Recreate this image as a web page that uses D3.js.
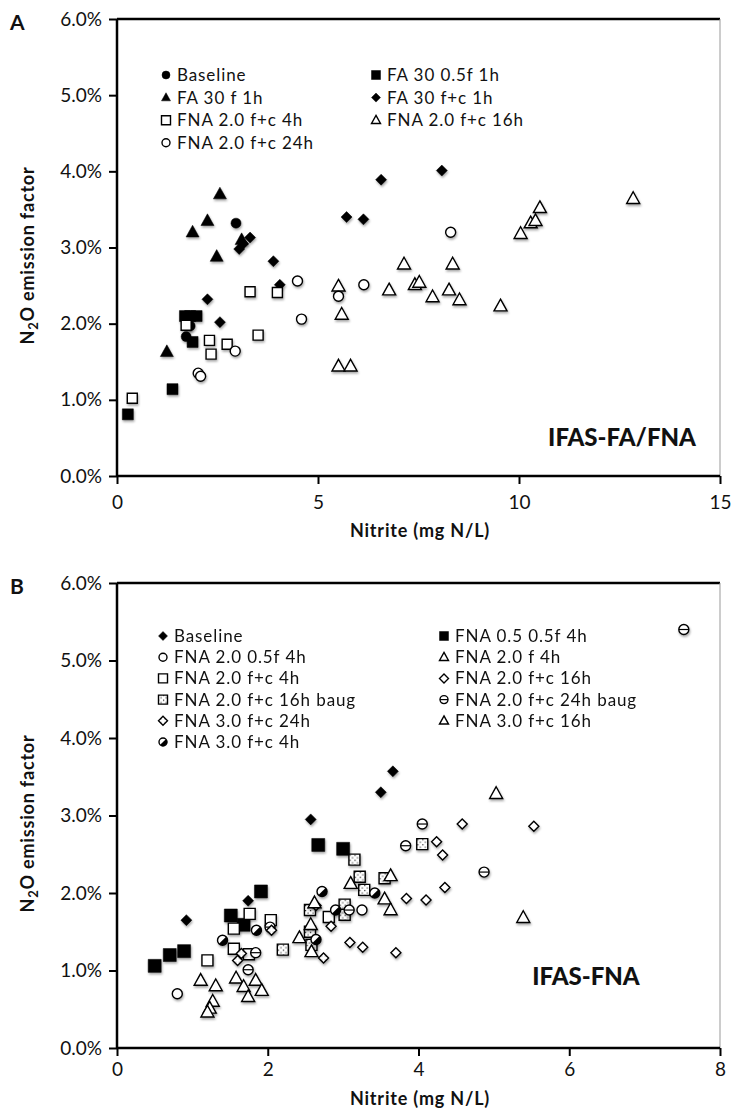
<!DOCTYPE html>
<meta charset="utf-8">
<script src="https://d3js.org/d3.v7.min.js"></script>
<style>
  body { margin: 0; background: #fff; }
  text { font-family: Lato, "Open Sans", sans-serif; fill: #111; }
  .tick text { font-size: 19px; }
  .ttl { font-weight: bold; font-size: 18px; letter-spacing: 0.8px; }
  .leg { font-size: 17px; letter-spacing: 0.9px; }
</style>
<div id="chart"></div>
<script>
// ---- data: [nitrite mg N/L, N2O emission factor %] ----
// panel A
var aBaseline = [[2.96,3.32],[1.82,1.97],[1.72,1.83]];
var aFA30half = [[1.69,2.10],[1.82,2.10],[1.98,2.10],[1.88,1.76],[1.38,1.14],[0.27,0.81]];
var aFA30f    = [[2.56,3.70],[2.25,3.35],[1.88,3.20],[2.48,2.88],[1.24,1.63],[3.10,3.10]];
var aFA30fc   = [[8.08,4.01],[6.57,3.89],[5.71,3.40],[6.13,3.37],[3.31,3.13],[3.14,3.05],[3.04,2.98],[3.89,2.82],[4.05,2.51],[2.25,2.32],[2.56,2.02]];
var aFNA4h    = [[1.72,1.98],[3.31,2.42],[3.99,2.41],[3.51,1.85],[2.30,1.78],[2.74,1.73],[2.34,1.60],[0.38,1.02]];
var aFNA16h   = [[7.14,2.78],[5.51,2.49],[5.59,2.12],[6.77,2.44],[7.41,2.51],[7.52,2.54],[5.51,1.44],[5.81,1.44],[7.85,2.35],[8.26,2.44],[8.35,2.78],[8.52,2.31],[9.54,2.23],[10.04,3.18],[10.29,3.32],[10.41,3.35],[10.52,3.52],[12.84,3.64]];
var aFNA24h   = [[4.49,2.56],[4.59,2.06],[5.51,2.36],[6.14,2.51],[2.94,1.64],[2.02,1.35],[2.08,1.31],[8.30,3.20]];
var aNames = ["Baseline","FA 30 0.5f 1h","FA 30 f 1h","FA 30 f+c 1h","FNA 2.0 f+c 4h","FNA 2.0 f+c 16h","FNA 2.0 f+c 24h"];

// panel B
var bBaseline  = [[0.92,1.65],[1.74,1.90],[2.57,2.95],[3.50,3.30],[3.66,3.57]];
var bFNA05     = [[0.50,1.06],[0.70,1.20],[0.89,1.25],[1.51,1.71],[1.68,1.59],[1.91,2.02],[2.67,2.62],[3.00,2.57]];
var bFNA2half  = [[0.80,0.70],[3.25,1.78]];
var bFNA2f4h   = [[1.11,0.87],[1.31,0.80],[1.27,0.60],[1.23,0.51],[1.20,0.46],[1.58,0.90],[1.68,0.79],[1.84,0.87],[1.92,0.74],[1.74,0.66]];
var bFNA2fc4h  = [[1.20,1.13],[1.55,1.54],[1.55,1.28],[1.75,1.21],[1.76,1.73],[2.04,1.65],[2.81,1.69]];
var bFNA2fc16h = [[4.58,2.89],[5.53,2.86],[4.24,2.66],[4.32,2.49],[4.35,2.07],[3.84,1.93],[4.10,1.91],[2.84,1.57],[3.09,1.36],[3.26,1.30],[3.70,1.23]];
var bFNA2baug  = [[4.05,2.63],[3.15,2.43],[3.22,2.21],[3.28,2.04],[3.55,2.19],[2.56,1.78],[3.02,1.85],[3.02,1.72],[2.56,1.50],[2.58,1.33],[2.20,1.27]];
var bFNA24baug = [[7.52,5.40],[4.05,2.89],[3.83,2.61],[4.87,2.27],[3.08,1.78],[1.74,1.01],[2.03,1.56],[1.84,1.23]];
var bFNA3fc24h = [[1.60,1.13],[1.65,1.22],[2.74,1.16],[2.05,1.52],[2.64,1.84]];
var bFNA3fc16h = [[2.42,1.42],[2.57,1.59],[2.58,1.24],[2.62,1.87],[3.10,2.12],[3.55,1.92],[3.63,1.78],[3.63,2.22],[5.03,3.28],[5.39,1.68]];
var bFNA3fc4h  = [[2.72,2.02],[1.85,1.52],[1.40,1.39],[2.90,1.78],[3.42,2.00],[2.64,1.40]];
var bNames = ["Baseline","FNA 0.5 0.5f 4h","FNA 2.0 0.5f 4h","FNA 2.0 f 4h","FNA 2.0 f+c 4h","FNA 2.0 f+c 16h","FNA 2.0 f+c 16h baug","FNA 2.0 f+c 24h baug","FNA 3.0 f+c 24h","FNA 3.0 f+c 16h","FNA 3.0 f+c 4h"];

var yTicks = [0,1,2,3,4,5,6];
var aXTicks = [0,5,10,15];
var bXTicks = [0,2,4,6,8];

var W = 735, H = 1110;
var svg = d3.select("#chart").append("svg").attr("width", W).attr("height", H);

var defs = svg.append("defs");
var sh = defs.append("filter").attr("id","shadow").attr("x","-50%").attr("y","-50%").attr("width","200%").attr("height","200%");
sh.append("feDropShadow").attr("dx",0.8).attr("dy",1.8).attr("stdDeviation",1).attr("flood-color","#000").attr("flood-opacity",0.35);

var sp = defs.append("pattern").attr("id","speck").attr("width",5).attr("height",5).attr("patternUnits","userSpaceOnUse");
sp.append("rect").attr("width",5).attr("height",5).attr("fill","#fff");
sp.append("rect").attr("x",0).attr("y",0).attr("width",1.2).attr("height",1.2).attr("fill","#222");
sp.append("rect").attr("x",2.5).attr("y",2.5).attr("width",1.2).attr("height",1.2).attr("fill","#444");
var dp = defs.append("pattern").attr("id","dots").attr("width",4).attr("height",4).attr("patternUnits","userSpaceOnUse");
dp.append("rect").attr("width",4).attr("height",4).attr("fill","#fff");
dp.append("rect").attr("x",1.5).attr("y",1.5).attr("width",1).attr("height",1).attr("fill","#555");

function shapePath(shape, s) {
  var r = s / 2;
  if (shape === "square") return "M" + (-r) + "," + (-r) + "h" + s + "v" + s + "h" + (-s) + "Z";
  if (shape === "diamond") return "M0," + (-r) + "L" + r + ",0L0," + r + "L" + (-r) + ",0Z";
  if (shape === "triangle") { var h = s * 0.9; return "M0," + (-h * 0.6) + "L" + r + "," + (h * 0.4) + "L" + (-r) + "," + (h * 0.4) + "Z"; }
  return "M" + r + ",0A" + r + "," + r + " 0 1,1 " + (-r) + ",0A" + r + "," + r + " 0 1,1 " + r + ",0Z";
}

function drawMarker(g, shape, style, s) {
  var fill = "#fff";
  if (style === "filled") fill = "#000";
  if (style === "speck") fill = "url(#speck)";
  if (style === "dots") fill = "url(#dots)";
  g.append("path").attr("d", shapePath(shape, s))
    .attr("fill", fill)
    .attr("stroke", "#000").attr("stroke-width", style === "filled" ? 0.5 : 1.4)
    .attr("stroke-linejoin", "miter");
  var r = s / 2;
  if (style === "hline") {
    g.append("line").attr("x1", -r).attr("x2", r).attr("stroke", "#000").attr("stroke-width", 1.2);
  }
  if (style === "half") {
    var a = Math.PI / 4;
    g.append("path")
      .attr("d", "M" + (r * Math.cos(a)) + "," + (-r * Math.sin(a)) + "A" + r + "," + r + " 0 0,1 " + (-r * Math.cos(a)) + "," + (r * Math.sin(a)) + "Z")
      .attr("fill", "#000");
  }
}

function panel(cfg) {
  var x = d3.scaleLinear().domain(cfg.xDomain).range([117, 720]);
  var y = d3.scaleLinear().domain([0, 6]).range([cfg.bottom, cfg.top]);
  var g = svg.append("g");

  // frame
  g.append("line").attr("x1", 117).attr("x2", 720).attr("y1", cfg.top).attr("y2", cfg.top)
    .attr("stroke", "#000").attr("stroke-width", 2.5);
  g.append("line").attr("x1", 720).attr("x2", 720).attr("y1", cfg.top).attr("y2", cfg.bottom)
    .attr("stroke", "#999").attr("stroke-width", 1);

  var ya = g.append("g").attr("transform", "translate(117,0)")
    .call(d3.axisLeft(y).tickValues(yTicks).tickSize(8).tickPadding(7).tickFormat(function(d) { return d.toFixed(1) + "%"; }));
  var xa = g.append("g").attr("transform", "translate(0," + cfg.bottom + ")")
    .call(d3.axisBottom(x).tickValues(cfg.xTicks).tickSize(8).tickPadding(cfg.xPad));
  [ya, xa].forEach(function(a) {
    a.select(".domain").attr("stroke", "#000").attr("stroke-width", 2.5);
    a.selectAll(".tick line").attr("stroke", "#000").attr("stroke-width", 2);
    a.selectAll(".tick text").attr("fill", "#222");
  });
  ya.select(".domain").attr("d", "M0," + cfg.top + "V" + cfg.bottom);
  xa.select(".domain").attr("d", "M117,0H720");

  // axis titles
  var yt = g.append("text").attr("class", "ttl").attr("text-anchor", "middle")
    .attr("transform", "translate(34," + ((cfg.top + cfg.bottom) / 2 + 8) + ") rotate(-90)");
  yt.append("tspan").text("N");
  yt.append("tspan").attr("font-size", "13px").attr("dy", 4).text("2");
  yt.append("tspan").attr("dy", -4).text("O emission factor");
  g.append("text").attr("class", "ttl").attr("text-anchor", "middle")
    .attr("x", 420).attr("y", cfg.bottom + cfg.titleOff).text("Nitrite (mg N/L)");
  g.append("text").attr("x", 10).attr("y", cfg.top + 11).attr("font-weight", "bold").attr("font-size", "21px").text(cfg.letter);
  g.append("text").attr("x", cfg.tagX).attr("y", cfg.tagY).attr("text-anchor", "middle")
    .attr("font-weight", "900").attr("font-size", "24px").text(cfg.tag);

  // points
  cfg.series.forEach(function(s) {
    g.append("g").attr("filter", "url(#shadow)")
      .selectAll("g").data(s.data).enter().append("g")
      .attr("transform", function(d) { return "translate(" + x(d[0]) + "," + y(d[1]) + ")"; })
      .each(function() { drawMarker(d3.select(this), s.shape, s.style, s.size); });
  });

  // legend
  cfg.series.forEach(function(s, i) {
    var col = i % 2, row = Math.floor(i / 2);
    var lg = g.append("g").attr("transform", "translate(" + cfg.legX[col] + "," + (cfg.legY + row * cfg.legDy) + ")");
    drawMarker(lg.append("g"), s.shape, s.style, s.shape === "circle" ? 8 : 9);
    lg.append("text").attr("class", "leg").attr("x", 11).attr("y", 6).text(s.name);
  });
}

panel({
  letter: "A", top: 19, bottom: 476, xDomain: [0, 15], xTicks: aXTicks, xPad: 12, titleOff: 61,
  tag: "IFAS-FA/FNA", tagX: 622, tagY: 446,
  legX: [166, 376], legY: 75, legDy: 22.6,
  series: [
    {name: aNames[0], data: aBaseline, shape: "circle", style: "filled", size: 10},
    {name: aNames[1], data: aFA30half, shape: "square", style: "filled", size: 11},
    {name: aNames[2], data: aFA30f, shape: "triangle", style: "filled", size: 13},
    {name: aNames[3], data: aFA30fc, shape: "diamond", style: "filled", size: 11},
    {name: aNames[4], data: aFNA4h, shape: "square", style: "open", size: 10},
    {name: aNames[5], data: aFNA16h, shape: "triangle", style: "open", size: 13},
    {name: aNames[6], data: aFNA24h, shape: "circle", style: "open", size: 10}
  ]
});

panel({
  letter: "B", top: 583, bottom: 1048, xDomain: [0, 8], xTicks: bXTicks, xPad: 7, titleOff: 57,
  tag: "IFAS-FNA", tagX: 586, tagY: 985,
  legX: [163, 444], legY: 636, legDy: 21.2,
  series: [
    {name: bNames[0], data: bBaseline, shape: "diamond", style: "filled", size: 11},
    {name: bNames[1], data: bFNA05, shape: "square", style: "filled", size: 13},
    {name: bNames[2], data: bFNA2half, shape: "circle", style: "open", size: 10},
    {name: bNames[3], data: bFNA2f4h, shape: "triangle", style: "open", size: 13},
    {name: bNames[4], data: bFNA2fc4h, shape: "square", style: "open", size: 11},
    {name: bNames[5], data: bFNA2fc16h, shape: "diamond", style: "open", size: 10},
    {name: bNames[6], data: bFNA2baug, shape: "square", style: "speck", size: 11},
    {name: bNames[7], data: bFNA24baug, shape: "circle", style: "hline", size: 10},
    {name: bNames[8], data: bFNA3fc24h, shape: "diamond", style: "dots", size: 10},
    {name: bNames[9], data: bFNA3fc16h, shape: "triangle", style: "open", size: 13},
    {name: bNames[10], data: bFNA3fc4h, shape: "circle", style: "half", size: 10}
  ]
});
</script>
